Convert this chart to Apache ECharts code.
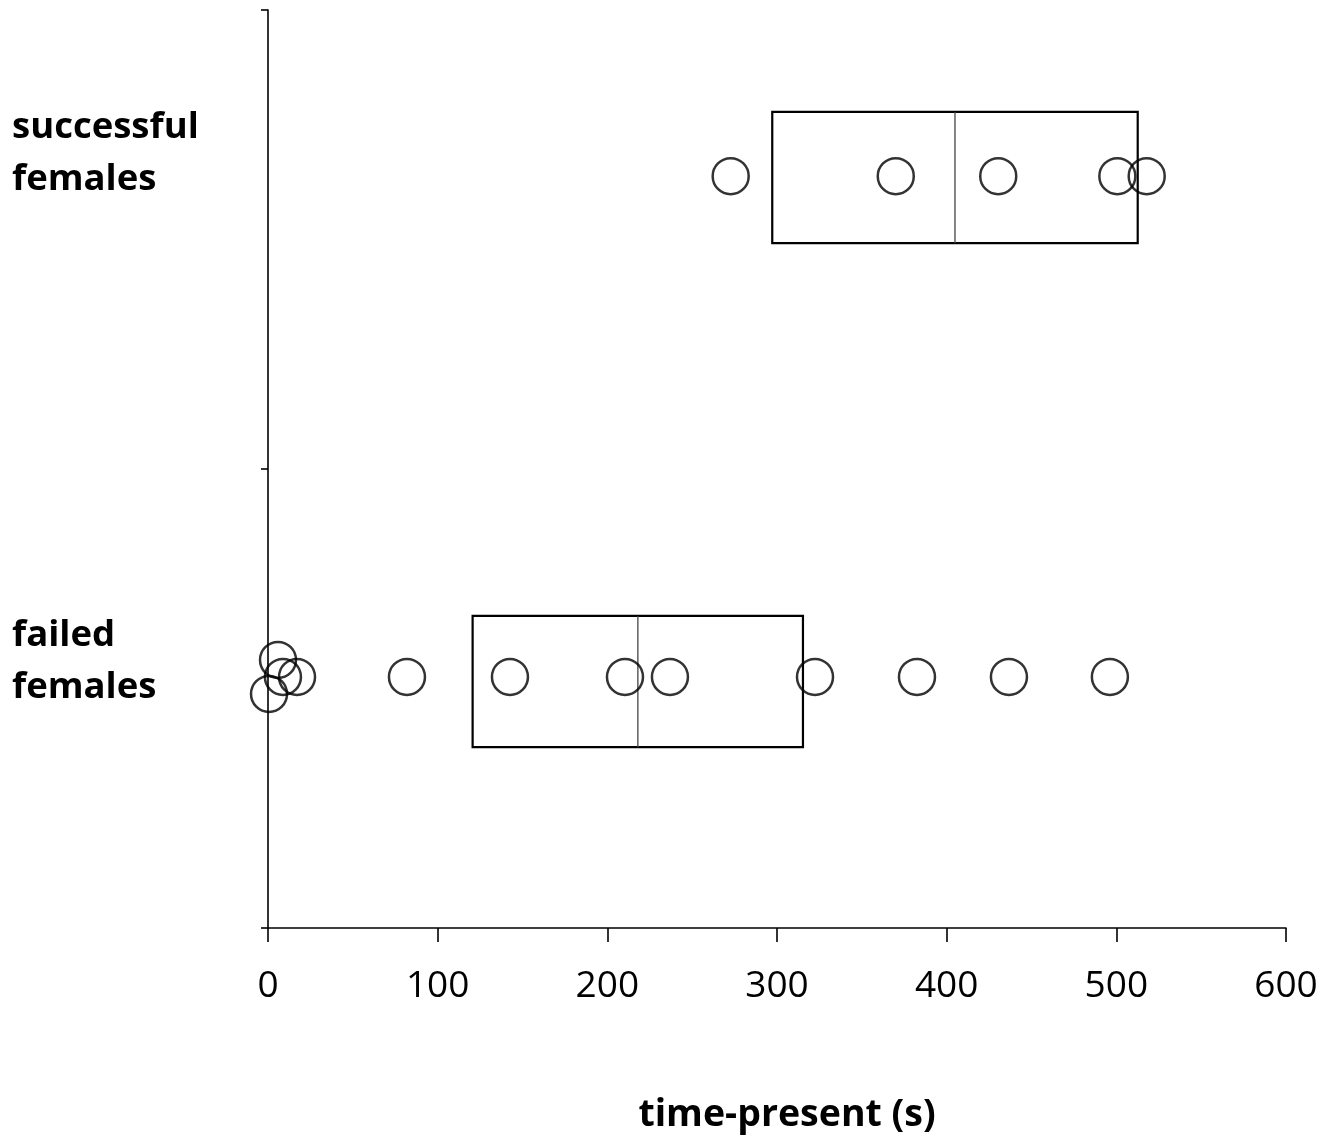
<!DOCTYPE html>
<html>
<head>
<meta charset="utf-8">
<script src="https://cdn.jsdelivr.net/npm/echarts@6/dist/echarts.min.js"></script>
<style>
  html, body { margin: 0; padding: 0; background: #fff; }
  #chart { width: 1333px; height: 1136px; }
</style>
</head>
<body>
<div id="chart"></div>
<script>
// group labels and data
const groupNames = ['successful\nfemales', 'failed\nfemales']
const xTicks = [0, 100, 200, 300, 400, 500, 600]

// individual females: [time-present, row height]
const successfulX = [272.7, 370, 430.4, 500.6, 517.9]
const successfulY = [1.638, 1.638, 1.638, 1.638, 1.638]
const failedX = [0.6, 5.9, 8.8, 17.1, 81.9, 142.6, 210.4, 236.9, 322.4, 382.5, 436.7, 496.2]
const failedY = [0.51, 0.584, 0.547, 0.547, 0.547, 0.547, 0.547, 0.547, 0.547, 0.547, 0.547, 0.547]

// boxes: [q1, median, q3, bottom, top]
const successfulBox = [297.2, 404.9, 512.6, 1.492, 1.778]
const failedBox = [120.6, 218, 315.3, 0.394, 0.68]

const pts = (xs, ys) => xs.map((x, i) => [x, ys[i]])

function renderBox(params, api) {
  const lo = api.coord([api.value(0), api.value(3)])
  const med = api.coord([api.value(1), api.value(3)])
  const hi = api.coord([api.value(2), api.value(4)])
  return {
    type: 'group',
    children: [
      {
        type: 'rect',
        shape: { x: lo[0], y: hi[1], width: hi[0] - lo[0], height: lo[1] - hi[1] },
        style: { fill: 'none', stroke: '#000', lineWidth: 2.2 }
      },
      {
        type: 'line',
        shape: { x1: med[0], y1: lo[1], x2: med[0], y2: hi[1] },
        style: { stroke: '#444', lineWidth: 1.3 }
      }
    ]
  }
}

const chart = echarts.init(document.getElementById('chart'))
const labelStyle = { fontFamily: 'Open Sans', fontWeight: 'bold', fontSize: 36.5, fill: '#000', lineHeight: 52 }

chart.setOption({
  animation: false,
  backgroundColor: '#fff',
  grid: { left: 268, right: 47, top: 10, bottom: 208, containLabel: false, outerBoundsMode: 'none' },
  xAxis: {
    type: 'value',
    min: 0,
    max: 600,
    interval: 100,
    name: 'time-present (s)',
    nameLocation: 'middle',
    nameGap: 168,
    nameTextStyle: { fontFamily: 'Open Sans', fontWeight: 'bold', fontSize: 37.5, color: '#000', padding: [0, 0, 0, 20] },
    axisLine: { show: true, lineStyle: { color: '#000', width: 1.6 } },
    axisTick: { show: true, length: 14, lineStyle: { color: '#000', width: 1.6 } },
    axisLabel: {
      margin: 40,
      fontFamily: 'Open Sans',
      fontSize: 37,
      color: '#000',
      formatter: v => (xTicks.includes(v) ? String(v) : '')
    },
    splitLine: { show: false }
  },
  yAxis: {
    type: 'value',
    min: 0,
    max: 2,
    interval: 1,
    axisLine: { show: true, lineStyle: { color: '#000', width: 1.6 } },
    axisTick: { show: true, length: 7, lineStyle: { color: '#000', width: 1.6 } },
    axisLabel: { show: false },
    splitLine: { show: false }
  },
  graphic: [
    { type: 'text', left: 12, top: 102, style: Object.assign({ text: groupNames[0] }, labelStyle) },
    { type: 'text', left: 12, top: 610, style: Object.assign({ text: groupNames[1] }, labelStyle) }
  ],
  series: [
    {
      type: 'custom',
      renderItem: renderBox,
      data: [successfulBox, failedBox],
      z: 1
    },
    {
      type: 'scatter',
      data: pts(successfulX, successfulY),
      symbol: 'circle',
      symbolSize: 36,
      itemStyle: { color: 'rgba(0,0,0,0)', borderColor: '#000', borderWidth: 2.5 },
      z: 2
    },
    {
      type: 'scatter',
      data: pts(failedX, failedY),
      symbol: 'circle',
      symbolSize: 36,
      itemStyle: { color: 'rgba(0,0,0,0)', borderColor: '#000', borderWidth: 2.5 },
      z: 2
    }
  ]
})
</script>
</body>
</html>
